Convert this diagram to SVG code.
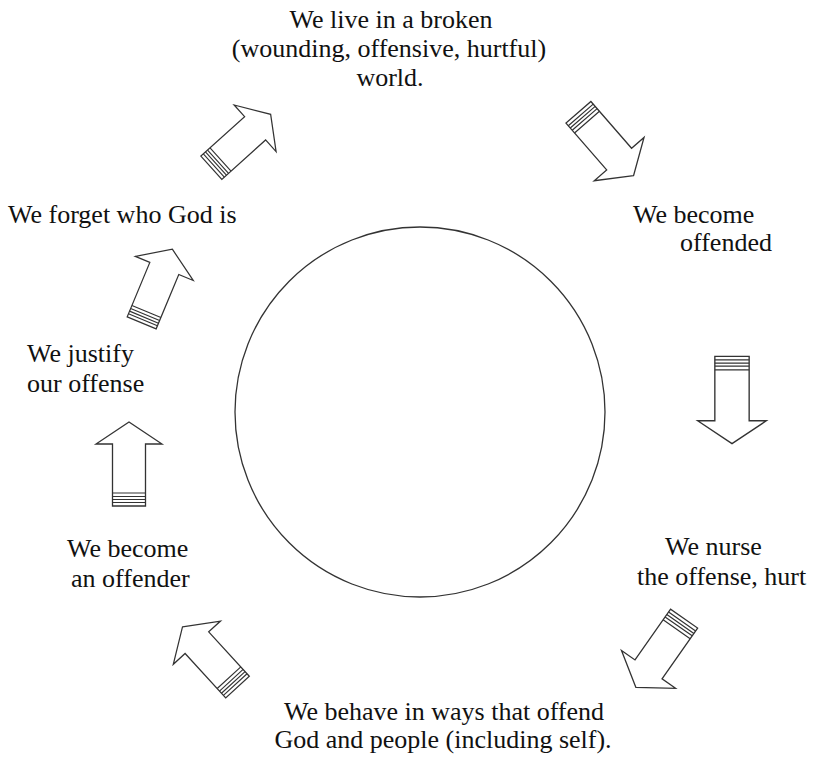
<svg xmlns="http://www.w3.org/2000/svg" xmlns:xlink="http://www.w3.org/1999/xlink" width="814" height="758" viewBox="0 0 814 758">
<style>
.ar{fill:#fff;stroke:#333;stroke-width:1.3;stroke-linejoin:miter;}
.st{fill:none;stroke:#333;stroke-width:1.2;}
.ring{fill:#fff;stroke:#333;stroke-width:1.3;}
.t{font-family:'Liberation Serif',serif;font-size:26px;fill:#111;}
</style>
<defs>
<g id="arrow">
<path class="ar" d="M0,-42 L33,-20 L16.5,-20 L16.5,42 L-16.5,42 L-16.5,-20 L-33,-20 Z"/>
<path class="st" d="M-16.5,29 H16.5 M-16.5,32.5 H16.5 M-16.5,35.5 H16.5 M-16.5,38.5 H16.5"/>
</g>
</defs>
<rect width="814" height="758" fill="#fff"/>
<g id="cycle-circle"><circle class="ring" cx="420" cy="412" r="185"/></g>
<g id="connectors">
<use xlink:href="#arrow" href="#arrow" transform="translate(606,144) rotate(139)"/>
<use xlink:href="#arrow" href="#arrow" transform="translate(732,400) rotate(180) scale(1.04)"/>
<use xlink:href="#arrow" href="#arrow" transform="translate(660,653) rotate(-145)"/>
<use xlink:href="#arrow" href="#arrow" transform="translate(210,657) rotate(-42.5) scale(0.97)"/>
<use xlink:href="#arrow" href="#arrow" transform="translate(129,464)"/>
<use xlink:href="#arrow" href="#arrow" transform="translate(157,286) rotate(22.6) scale(0.95)"/>
<use xlink:href="#arrow" href="#arrow" transform="translate(241,141) rotate(48) scale(0.95)"/>
</g>
<g class="t">
<g id="node-broken-world">
<text x="391" y="28" text-anchor="middle">We live in a broken</text>
<text x="389" y="57" text-anchor="middle">(wounding, offensive, hurtful)</text>
<text x="390" y="86" text-anchor="middle">world.</text>
</g>
<g id="node-offended">
<text x="633" y="223">We become</text>
<text x="680" y="251">offended</text>
</g>
<g id="node-nurse">
<text x="665" y="555">We nurse</text>
<text x="637" y="585">the offense, hurt</text>
</g>
<g id="node-behave">
<text x="444" y="720" text-anchor="middle">We behave in ways that offend</text>
<text x="443" y="748" text-anchor="middle">God and people (including self).</text>
</g>
<g id="node-offender">
<text x="67" y="557">We become</text>
<text x="71" y="587">an offender</text>
</g>
<g id="node-justify">
<text x="27" y="362">We justify</text>
<text x="27" y="392">our offense</text>
</g>
<g id="node-forget">
<text x="8" y="223">We forget who God is</text>
</g>
</g>
</svg>
